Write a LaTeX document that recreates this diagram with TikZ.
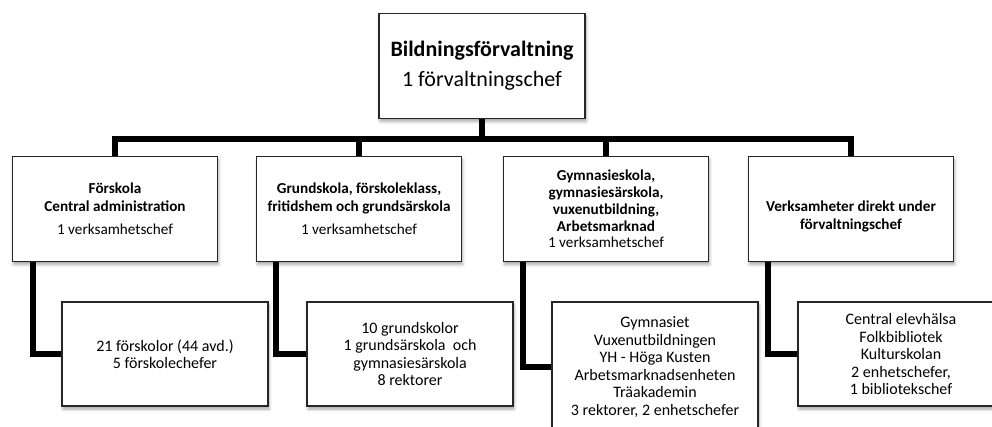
\documentclass[tikz,border=0pt]{standalone}
\usepackage{fontspec}
\setmainfont{Carlito}
\usetikzlibrary{shadows.blur}
\begin{document}
\begin{tikzpicture}[x=1pt,y=-1pt,
    box/.style={rectangle, draw=black!85, line width=1.1pt, fill=white,
        minimum width=205pt, minimum height=105pt, align=center, inner sep=2pt,
        font=\fontsize{16}{17.5}\selectfont,
        blur shadow={shadow xshift=1pt, shadow yshift=-3pt, shadow blur radius=3pt, shadow opacity=35}},
    head/.style={box, font=\fontsize{15.2}{18}\selectfont},
    link/.style={line width=5.5pt, black}]
    \useasboundingbox (0,0) rectangle (992,426);
    % top
    \node[box, minimum width=206pt, font=\fontsize{22}{24}\selectfont] (chef) at (482,66)
        {\textbf{Bildningsförvaltning}\\[6pt]1 förvaltningschef};
    % verksamheter
    \node[head] (forskola) at (115,209) {\textbf{Förskola}\\\textbf{Central administration}\\[5pt]1 verksamhetschef};
    \node[head] (grundskola) at (359,209) {\textbf{Grundskola, förskoleklass,}\\\textbf{fritidshem och grundsärskola}\\[5pt]1 verksamhetschef};
    \node[head, font=\fontsize{15.2}{16.8}\selectfont] (gymnasie) at (606,209) {\textbf{Gymnasieskola,}\\\textbf{gymnasiesärskola,}\\\textbf{vuxenutbildning,}\\\textbf{Arbetsmarknad}\\1 verksamhetschef};
    \node[head] (direkt) at (851,209) {\rule{0pt}{26pt}\textbf{Verksamheter direkt under}\\\textbf{förvaltningschef}};
    % enheter
    \node[box, minimum width=206pt, minimum height=104pt] (forskolor) at (165,354) {21 förskolor (44 avd.)\\5 förskolechefer};
    \node[box, minimum width=206pt, minimum height=104pt] (grundskolor) at (410,354) {10 grundskolor\\1 grundsärskola\ \ och\\gymnasiesärskola\\8 rektorer};
    \node[box, minimum width=206pt, minimum height=130pt] (gymnasiet) at (655,367) {Gymnasiet\\Vuxenutbildningen\\YH - Höga Kusten\\Arbetsmarknadsenheten\\Träakademin\\3 rektorer, 2 enhetschefer};
    \node[box, minimum width=206pt, minimum height=104pt] (central) at (901,354) {Central elevhälsa\\Folkbibliotek\\Kulturskolan\\2 enhetschefer,\\1 bibliotekschef};
    % linjer
    \draw[link] (chef.south) -- ++(0,20) -| (forskola.north);
    \draw[link] (chef.south) -- ++(0,20) -| (grundskola.north);
    \draw[link] (chef.south) -- ++(0,20) -| (gymnasie.north);
    \draw[link] (chef.south) -- ++(0,20) -| (direkt.north);
    \draw[link] ([xshift=21pt]forskola.south west) |- (forskolor.west);
    \draw[link] ([xshift=20pt]grundskola.south west) |- (grundskolor.west);
    \draw[link] ([xshift=20pt]gymnasie.south west) |- (gymnasiet.west);
    \draw[link] ([xshift=20pt]direkt.south west) |- (central.west);
\end{tikzpicture}
\end{document}
